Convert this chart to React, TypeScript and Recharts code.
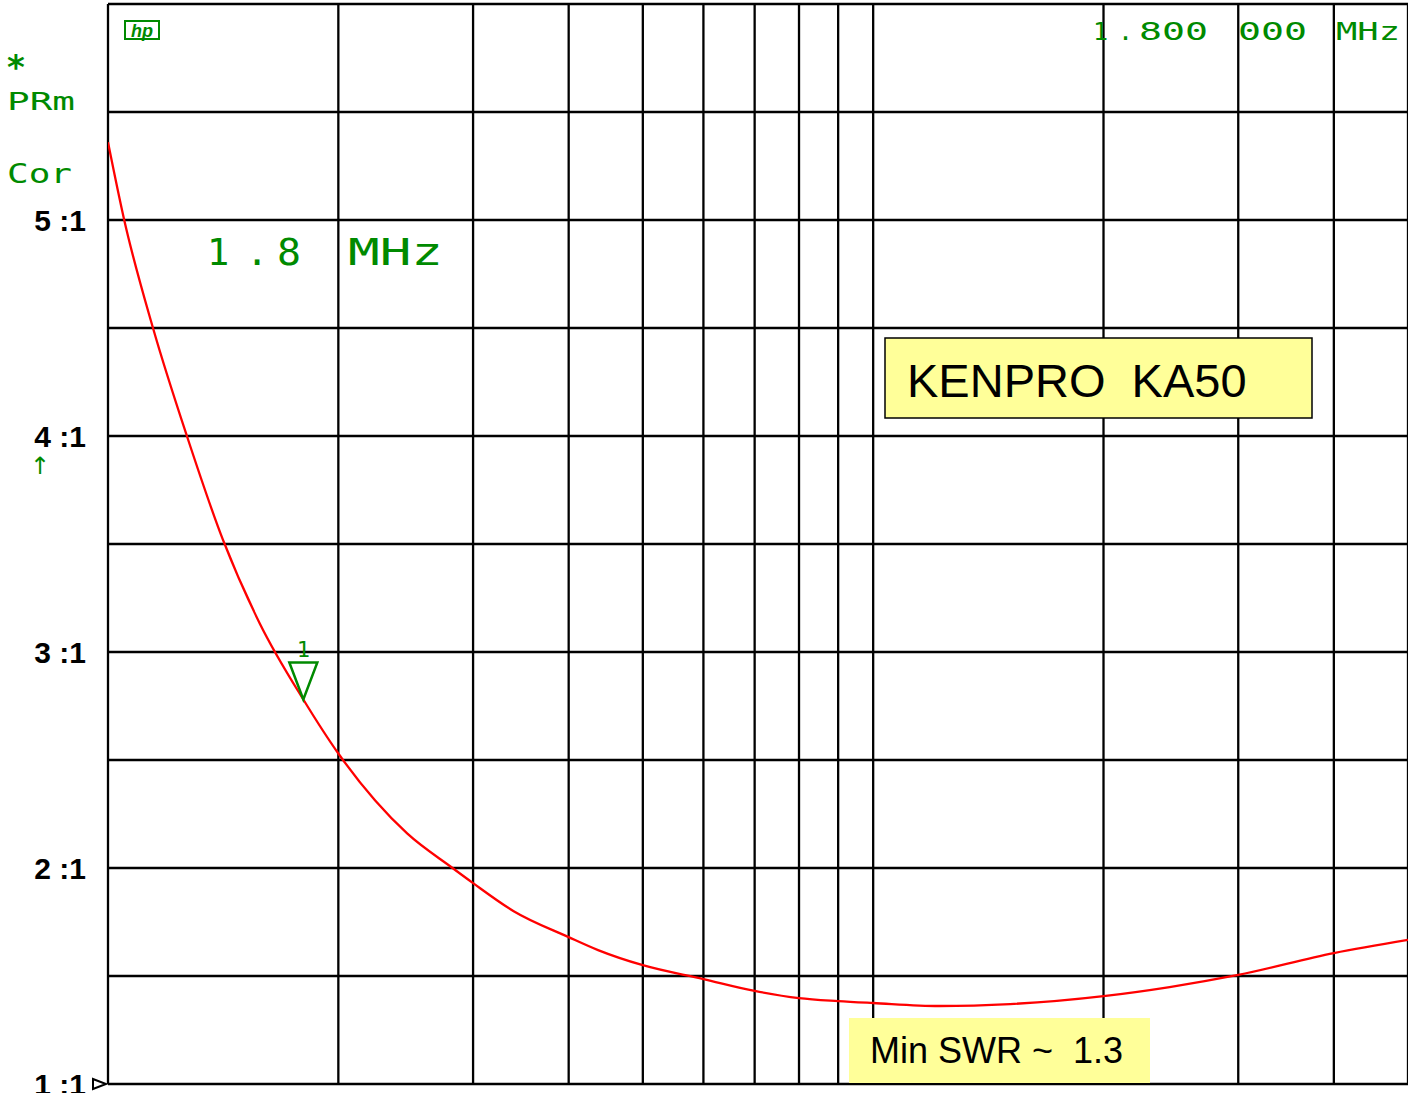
import React from 'react';
import { LineChart, Line, XAxis, YAxis, CartesianGrid, ReferenceDot } from 'recharts';

const freqMHz = [1.0, 1.05, 1.145, 1.268, 1.413, 1.58, 1.8, 2.0, 2.46, 2.82, 3.0, 3.39, 4.0, 4.37, 5.0, 6.0, 7.0, 8.0, 9.0, 10, 12.2, 15.1, 20, 24.4, 30, 40, 50];
const swrValues = [5.36, 5.0, 4.5, 4.0, 3.52, 3.13, 2.78, 2.53, 2.16, 2.0, 1.93, 1.8, 1.68, 1.62, 1.55, 1.486, 1.431, 1.398, 1.384, 1.375, 1.361, 1.37, 1.407, 1.449, 1.505, 1.606, 1.667];

const xGridTicks = [1, 2, 3, 4, 5, 6, 7, 8, 9, 10, 20, 30, 40, 50];
const yGridTicks = [1, 1.5, 2, 2.5, 3, 3.5, 4, 4.5, 5, 5.5, 6];
const yLabelTicks = [1, 2, 3, 4, 5];

const markerFreq = 1.8;
const markerSwr = 2.78;
const markerLabel = '1';

const titleText = 'KENPRO  KA50';
const minSwrText = 'Min SWR ~  1.3';

const data = freqMHz.map((f, i) => ({ f, swr: swrValues[i] }));

const GREEN = '#008a00';
const MONO = '"DejaVu Sans Mono", monospace';
const SANS = '"Liberation Sans", Arial, sans-serif';

const YTick = (props: any) => {
  const { y, payload } = props;
  return (
    <g>
      <text x={86} y={y + 11} textAnchor="end" fontFamily={SANS} fontWeight="bold" fontSize={30} fill="#000" style={{ whiteSpace: 'pre' }}>
        {`${payload.value} :1`}
      </text>
      {payload.value === 1 && (
        <path d={`M93 ${y - 5} L106 ${y} L93 ${y + 5} Z`} fill="none" stroke="#000" strokeWidth={2} />
      )}
    </g>
  );
};

const MarkerShape = (props: any) => {
  const { cx, cy } = props;
  return (
    <g>
      <path d={`M${cx - 14} ${cy - 37} L${cx + 14} ${cy - 37} L${cx} ${cy} Z`} fill="none" stroke={GREEN} strokeWidth={2.5} />
      <text x={cx} y={cy - 43} textAnchor="middle" fontFamily={MONO} fontSize={22} fill={GREEN}>
        {markerLabel}
      </text>
    </g>
  );
};

export default function App() {
  return (
    <div style={{ position: 'absolute', left: 0, top: 0, width: 1408, height: 1093, background: '#fff' }}>
      <LineChart width={1408} height={1093} data={data} margin={{ top: 4, right: 0, bottom: 9, left: 0 }}>
        <CartesianGrid
          stroke="#000"
          strokeWidth={2.3}
          verticalValues={xGridTicks}
          horizontalValues={yGridTicks}
          fill="none"
        />
        <XAxis dataKey="f" type="number" scale="log" domain={[1, 50]} ticks={xGridTicks} allowDataOverflow hide />
        <YAxis
          type="number"
          domain={[1, 6]}
          ticks={yLabelTicks}
          interval={0}
          width={108}
          axisLine={false}
          tickLine={false}
          tick={<YTick />}
          allowDataOverflow
        />
        <Line dataKey="swr" type="monotone" stroke="#ff0000" strokeWidth={2.3} dot={false} isAnimationActive={false} />
        <ReferenceDot x={markerFreq} y={markerSwr} r={3} shape={<MarkerShape />} ifOverflow="visible" />
      </LineChart>
      <svg width={1408} height={1093} style={{ position: 'absolute', left: 0, top: 0, pointerEvents: 'none' }}>
        {/* left panel labels */}
        <text x={7} y={79} fontFamily='"DejaVu Sans", sans-serif' fontWeight="bold" fontSize={34} fill={GREEN}>*</text>
        <text x={7} y={110} fontFamily={MONO} fontSize={25} fill={GREEN} textLength={68} lengthAdjust="spacingAndGlyphs">PRm</text>
        <text x={7} y={183} fontFamily={MONO} fontSize={27} fill={GREEN} textLength={65} lengthAdjust="spacingAndGlyphs">Cor</text>
        <text x={40} y={474} textAnchor="middle" fontFamily='"DejaVu Sans", sans-serif' fontSize={24} fill={GREEN}>↑</text>
        {/* hp logo */}
        <rect x={125} y={21} width={34} height={18} fill="none" stroke={GREEN} strokeWidth={2} />
        <text x={142} y={37} textAnchor="middle" fontFamily={SANS} fontStyle="italic" fontWeight="bold" fontSize={18} fill={GREEN}>hp</text>
        {/* frequency readouts */}
        <text x={207} y={265} fontFamily={MONO} fontSize={37} fill={GREEN}>1</text>
        <text x={246} y={265} fontFamily={MONO} fontSize={37} fill={GREEN}>.</text>
        <text x={277} y={265} fontFamily={MONO} fontSize={37} fill={GREEN} textLength={24} lengthAdjust="spacingAndGlyphs">8</text>
        <text x={348} y={265} fontFamily={MONO} fontSize={37} fill={GREEN} textLength={95} lengthAdjust="spacingAndGlyphs">MHz</text>
        <text x={1093} y={40} fontFamily={MONO} fontSize={25} fill={GREEN}>1</text>
        <text x={1118} y={40} fontFamily={MONO} fontSize={25} fill={GREEN}>.</text>
        <text x={1139} y={40} fontFamily={MONO} fontSize={25} fill={GREEN} textLength={69} lengthAdjust="spacingAndGlyphs">800</text>
        <text x={1238} y={40} fontFamily={MONO} fontSize={25} fill={GREEN} textLength={69} lengthAdjust="spacingAndGlyphs">000</text>
        <text x={1336} y={40} fontFamily={MONO} fontSize={25} fill={GREEN} textLength={64} lengthAdjust="spacingAndGlyphs">MHz</text>
        {/* annotation boxes */}
        <rect x={885} y={338} width={427} height={80} fill="#ffff99" stroke="#000" strokeWidth={1.5} />
        <text x={907} y={397} fontFamily={SANS} fontSize={47} fill="#000" style={{ whiteSpace: 'pre' }}>{titleText}</text>
        <rect x={849} y={1018} width={301} height={65} fill="#ffff99" />
        <text x={870} y={1063} fontFamily={SANS} fontSize={36} fill="#000" style={{ whiteSpace: 'pre' }}>{minSwrText}</text>
      </svg>
    </div>
  );
}
